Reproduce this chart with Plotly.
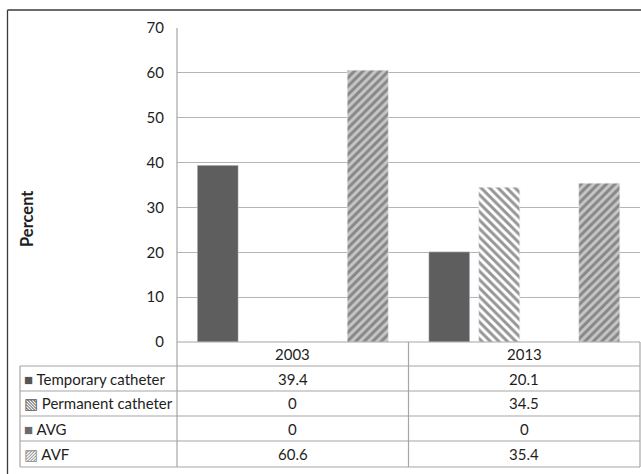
import plotly.graph_objects as go

# Vascular access type at start of haemodialysis, by year (percent)
years = ["2003", "2013"]
series_names = ["Temporary catheter", "Permanent catheter", "AVG", "AVF"]
temporary_catheter = [39.4, 20.1]
permanent_catheter = [0, 34.5]
avg_values = [0, 0]
avf_values = [60.6, 35.4]
y_ticks = [0, 10, 20, 30, 40, 50, 60, 70]

W, H = 641, 474
L, R, T, B = 177, 1, 28, 132
FONT = "Lato"
TXT = "#1e1e1e"
GRID = "#b4b4b4"
TABLE_LINE = "#a6a6a6"


def px(x):
    return (x - L) / (W - L - R)


def py(y):
    return (H - B - y) / (H - T - B)


styles = [
    dict(color="#5e5e5e"),
    dict(color="white", pattern=dict(shape="\\", fgcolor="#2e2e2e", bgcolor="white",
                                     size=6, solidity=0.5)),
    dict(color="#6a6a6a"),
    dict(color="#c4c4c4", pattern=dict(shape="/", fgcolor="#484848", bgcolor="#c6c6c6",
                                       size=6, solidity=0.5)),
]
glyphs = [("■", "#555555"), ("▧", "#555555"), ("■", "#6a6a6a"), ("▨", "#8a8a8a")]
all_values = [temporary_catheter, permanent_catheter, avg_values, avf_values]

fig = go.Figure()
for name, vals, st in zip(series_names, all_values, styles):
    fig.add_trace(go.Bar(x=years, y=vals, name=name, marker=st))

shapes = []
# outer chart border (left and top)
shapes.append(dict(type="line", xref="paper", yref="paper", x0=px(7.5), x1=px(W + 5),
                   y0=py(10), y1=py(10), line=dict(color="#3a3a3a", width=1.3)))
shapes.append(dict(type="line", xref="paper", yref="paper", x0=px(7.5), x1=px(7.5),
                   y0=py(10), y1=py(H + 5), line=dict(color="#3a3a3a", width=1.3)))

# data table grid
row_edges = [342, 366, 391, 416, 441, 467]
for i, yy in enumerate(row_edges):
    x_start = L if i == 0 else 20
    shapes.append(dict(type="line", xref="paper", yref="paper", x0=px(x_start), x1=px(640),
                       y0=py(yy), y1=py(yy), line=dict(color=TABLE_LINE, width=1.2)))
for xx, ytop in [(20, 366), (L, 28), (408.5, 342), (640, 342)]:
    shapes.append(dict(type="line", xref="paper", yref="paper", x0=px(xx), x1=px(xx),
                       y0=py(ytop), y1=py(467), line=dict(color=TABLE_LINE, width=1.2)))

annotations = []
# column headers (x given as category index on the x axis)
for ci, yr in enumerate(years):
    annotations.append(dict(x=ci, xref="x", y=py(354), yref="paper", text=yr,
                            xanchor="center", yanchor="middle",
                            showarrow=False, font=dict(family=FONT, size=15, color=TXT)))
# table rows
row_centers = [378.5, 403.5, 428.5, 454]
for name, vals, (g, gc), yc in zip(series_names, all_values, glyphs, row_centers):
    annotations.append(dict(x=px(22), xref="paper", y=py(yc), yref="paper",
                            xanchor="left", yanchor="middle",
                            text=f"<span style='color:{gc};font-size:15px'>{g}</span> {name}",
                            showarrow=False, font=dict(family=FONT, size=15, color=TXT)))
    for ci, v in enumerate(vals):
        annotations.append(dict(x=ci, xref="x", y=py(yc), yref="paper", text=f"{v:g}",
                                xanchor="center", yanchor="middle",
                                showarrow=False, font=dict(family=FONT, size=15, color=TXT)))

# axis title
annotations.append(dict(x=px(27), xref="paper", y=py(219), yref="paper", text="<b>Percent</b>",
                        xanchor="center", yanchor="middle", textangle=-90, showarrow=False,
                        font=dict(family=FONT, size=16.5, color=TXT)))

fig.update_layout(
    width=W, height=H,
    margin=dict(l=L, r=R, t=T, b=B),
    paper_bgcolor="white", plot_bgcolor="white",
    barmode="group", bargap=0.136, bargroupgap=0.18,
    showlegend=False,
    font=dict(family=FONT, size=15, color=TXT),
    shapes=shapes, annotations=annotations,
)
fig.update_xaxes(type="category", categoryorder="array", categoryarray=years,
                 range=[-0.5, 1.5], showticklabels=False, showgrid=False, showline=False,
                 ticks="", zeroline=False)
fig.update_yaxes(range=[0, 70], tickvals=y_ticks, showgrid=True, gridcolor=GRID, gridwidth=1.3,
                 zeroline=False, showline=False, ticks="", ticklabelstandoff=12,
                 tickfont=dict(family=FONT, size=15, color=TXT))

fig.write_html("out.html")
